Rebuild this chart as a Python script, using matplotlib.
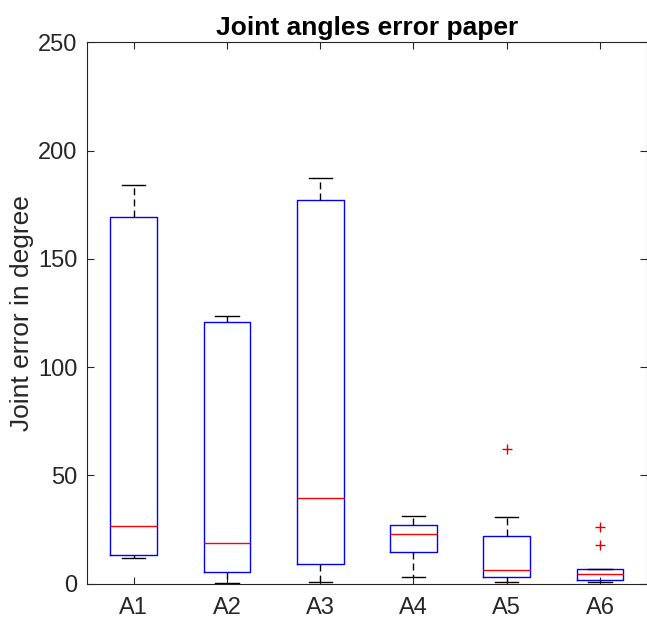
import matplotlib.pyplot as plt
import numpy as np

plt.rcParams['font.family'] = ['Liberation Sans', 'DejaVu Sans']

labels = ['A1', 'A2', 'A3', 'A4', 'A5', 'A6']
# box stats (degrees)
whislo = [11.8, 0.3, 0.6, 3.1, 0.9, 0.6]
q1 = [13.1, 5.4, 9.2, 14.5, 2.9, 1.5]
med = [26.4, 18.8, 39.4, 23.1, 6.3, 4.3]
q3 = [169.1, 121.0, 177.0, 27.1, 21.8, 6.5]
whishi = [184.2, 123.8, 187.1, 31.0, 30.9, 6.5]
fliers = [[], [], [], [], [62.1], [26.3, 17.8]]

stats = []
for i in range(len(labels)):
    stats.append(dict(label=labels[i], whislo=whislo[i], q1=q1[i], med=med[i],
                      q3=q3[i], whishi=whishi[i], fliers=fliers[i]))

fig = plt.figure(figsize=(6.47, 6.18), dpi=100)
ax = fig.add_axes([0.1345, 0.0558, 0.865, 0.8757])

ax.bxp(stats, positions=np.arange(1, 7), widths=0.5,
       boxprops=dict(color='blue', linewidth=1.0),
       medianprops=dict(color='red', linewidth=1.0),
       whiskerprops=dict(color='black', linestyle=(0, (5, 3)), linewidth=1.0),
       capprops=dict(color='black', linewidth=1.0),
       flierprops=dict(marker='+', markeredgecolor='#e00000', markersize=7, linestyle='none'))

ax.set_xlim(0.5, 6.5)
ax.set_ylim(0, 250)
ax.set_yticks(np.arange(0, 251, 50))
ax.set_xticks(np.arange(1, 7))
ax.set_xticklabels(labels)
ax.tick_params(direction='in', top=True, right=True, length=5, width=0.8,
               labelsize=17, colors='#262626', labelcolor='#262626')
ax.tick_params(axis='y', pad=7)
ax.tick_params(axis='x', pad=10)
for s in ax.spines.values():
    s.set_color('#262626')
    s.set_linewidth(0.8)

ax.set_title('Joint angles error paper', fontsize=19, fontweight='bold', pad=5)
ax.set_ylabel('Joint error in degree', fontsize=19, color='#262626', labelpad=3)

fig.savefig('out.png')
